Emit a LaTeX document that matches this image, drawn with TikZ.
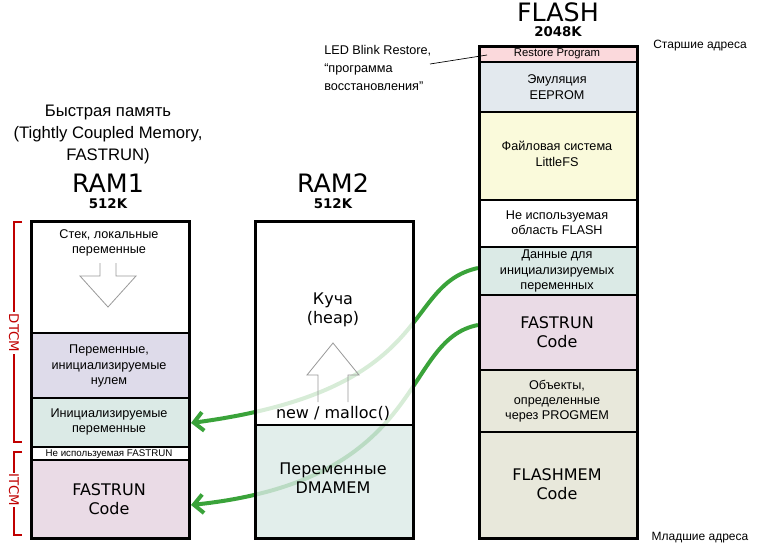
\documentclass[tikz,border=0pt]{standalone}
\usepackage{fontspec}
\setmainfont{DejaVu Sans}
\newfontfamily\arl{Liberation Sans}
\usetikzlibrary{arrows.meta}
\definecolor{cpur}{HTML}{DEDBEA}
\definecolor{cgrn}{HTML}{DBEAE6}
\definecolor{cpink}{HTML}{EADBE6}
\definecolor{cblue}{HTML}{E3E9EE}
\definecolor{cyel}{HTML}{FAFADB}
\definecolor{cbeige}{HTML}{E8E8DB}
\definecolor{crest}{HTML}{FBD9DC}
\definecolor{cred}{HTML}{C00000}
\definecolor{cgarr}{HTML}{3AA33A}
\begin{document}
\begin{tikzpicture}[x=0.75pt,y=-0.75pt,
 sec/.style={draw=black,line width=0.8pt},
 txt/.style={font=\arl\fontsize{9.5}{11.5}\selectfont,align=center},
 big/.style={font=\fontsize{12}{14}\selectfont,align=center},
 ttl/.style={font=\fontsize{19}{19}\selectfont},
 sz/.style={font=\bfseries\fontsize{10}{10}\selectfont},
 box/.style={draw=black,line width=2.2pt},
 garr/.style={draw=cgarr,line width=3pt,-{Straight Barb[length=7pt,width=14pt]}},
 brk/.style={draw=cred,line width=0.8pt},
 hol/.style={draw=gray!80,fill=white,line width=0.6pt}]
\useasboundingbox (0,0) rectangle (764,547);
% green arrows (behind RAM2)
\coordinate (s1) at (478,268); \coordinate (e1) at (191,423);
\coordinate (s2) at (478,325); \coordinate (e2) at (191,505);
\draw[garr] (s1) .. controls (400,285) and (440,390) .. (e1);
\draw[garr] (s2) .. controls (400,340) and (430,480) .. (e2);
% RAM1
\fill[white] (30,220) rectangle (188,333);
\fill[cpur] (30,333) rectangle (188,398);
\fill[cgrn] (30,398) rectangle (188,447);
\fill[white] (30,447) rectangle (188,460);
\fill[cpink] (30,460) rectangle (188,537);
\draw[sec] (30,333)--(188,333) (30,398)--(188,398) (30,447)--(188,447) (30,460)--(188,460);
\node[box,minimum width=118.5pt,minimum height=237.75pt,anchor=north west] (ram1) at (30,220) {};
\node[txt] (t1) at (109,243) {Стек, локальные\\переменные};
\draw[hol] (100,263)--(100,276)--(80,276)--(108,307)--(136,276)--(116,276)--(116,263);
\node[txt] (t2) at (109,366) {Переменные,\\инициализируемые\\нулем};
\node[txt] (t3) at (109,422) {Инициализируемые\\переменные};
\node[font=\arl\fontsize{7.3}{8}\selectfont] (t4) at (109,454) {Не используемая FASTRUN};
\node[big] (t5) at (109,499) {FASTRUN\\Code};
% RAM2
\fill[white,fill opacity=0.8] (254,220) rectangle (412,425);
\fill[cgrn,fill opacity=0.8] (254,425) rectangle (412,537);
\draw[sec] (254,425)--(412,425);
\node[box,minimum width=118.5pt,minimum height=237.75pt,anchor=north west] (ram2) at (254,220) {};
\node[big] (h1) at (333,310) {Куча\\(heap)};
\draw[hol,fill=none] (318,402)--(318,375)--(307,375)--(333,343)--(359,375)--(348,375)--(348,402);
\node[big] (h2) at (333,413) {new / malloc()};
\node[big] (h3) at (333,478) {Переменные\\DMAMEM};
% FLASH
\fill[crest] (478,45) rectangle (636,62);
\fill[cblue] (478,62) rectangle (636,112);
\fill[cyel] (478,112) rectangle (636,200);
\fill[white] (478,200) rectangle (636,247);
\fill[cgrn] (478,247) rectangle (636,295);
\fill[cpink] (478,295) rectangle (636,370);
\fill[cbeige] (478,370) rectangle (636,537);
\draw[sec] (478,62)--(636,62) (478,112)--(636,112) (478,200)--(636,200) (478,247)--(636,247) (478,295)--(636,295) (478,370)--(636,370) (478,432)--(636,432);
\node[box,minimum width=118.5pt,minimum height=369pt,anchor=north west] (flash) at (478,45) {};
\node[font=\arl\fontsize{8.5}{9}\selectfont] (f1) at (557,53.5) {Restore Program};
\node[txt] (f2) at (557,87) {Эмуляция\\EEPROM};
\node[txt] (f3) at (557,154) {Файловая система\\LittleFS};
\node[txt] (f4) at (557,223) {Не используемая\\область FLASH};
\node[txt] (f5) at (557,271) {Данные для\\инициализируемых\\переменных};
\node[big] (f6) at (557,332) {FASTRUN\\Code};
\node[txt] (f7) at (557,401) {Объекты,\\определенные\\через PROGMEM};
\node[big] (f8) at (557,484) {FLASHMEM\\Code};
% titles
\node[ttl] (r1) at (108,183) {RAM1};
\node[sz] (r1s) at (108,204) {512K};
\node[ttl] (r2) at (333,183) {RAM2};
\node[sz] (r2s) at (333,204) {512K};
\node[ttl] (fl) at (558,12) {FLASH};
\node[sz] (fls) at (558,32) {2048K};
\node[font=\arl\fontsize{12.5}{16.5}\selectfont,align=center] (fast) at (108,134) {Быстрая память\\(Tightly Coupled Memory,\\FASTRUN)};
\node[font=\arl\fontsize{9}{10}\selectfont] (hi) at (700,46) {Старшие адреса};
\node[font=\arl\fontsize{9}{10}\selectfont] (lo) at (700,538) {Младшие адреса};
\node[align=left,anchor=north west,font=\arl\fontsize{9.5}{13.5}\selectfont,inner sep=0pt] (led) at (324,45) {LED Blink Restore,\\“программа\\восстановления”};
\coordinate (ledl) at (430,64);
\coordinate (ledr) at (487,55);
\draw[line width=0.5pt] (ledl)--(ledr);
% brackets
\draw[brk] (22,222)--(14,222)--(14,442)--(22,442);
\draw[brk] (22,452)--(14,452)--(14,535)--(22,535);
\node[fill=white,text=cred,rotate=-90,font=\fontsize{10}{10}\selectfont,inner sep=1pt] (dt) at (14,333) {DTCM};
\node[fill=white,text=cred,rotate=-90,font=\fontsize{10}{10}\selectfont,inner sep=1pt] (it) at (14,490) {ITCM};
\end{tikzpicture}
\end{document}
